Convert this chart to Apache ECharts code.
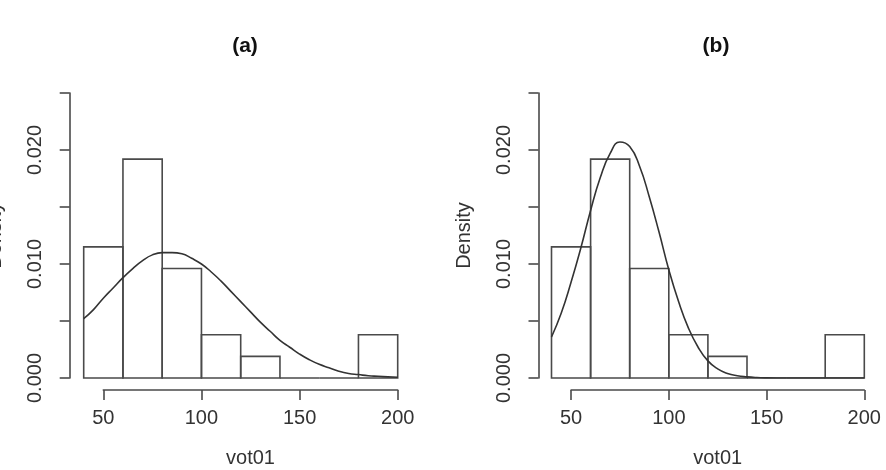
<!DOCTYPE html>
<html>
<head>
<meta charset="utf-8">
<title>vot01 density</title>
<script src="https://cdn.jsdelivr.net/npm/echarts@6/dist/echarts.min.js"></script>
<style>
  html, body { margin: 0; padding: 0; background: #fff; }
  #chart { width: 886px; height: 470px; }
</style>
</head>
<body>
<div id="chart"></div>
<script>
// histogram of vot01 (same bins in both panels)
var binEdges = [40, 60, 80, 100, 120, 140, 160, 180, 200];
var histDensity = [0.0115, 0.0192, 0.0096, 0.0038, 0.0019, 0, 0, 0.0038];

// fitted curves
var curveX = [40, 45, 50, 55, 60, 65, 70, 75, 80, 85, 90, 95, 100, 105, 110, 115, 120,
  125, 130, 135, 140, 145, 150, 155, 160, 165, 170, 175, 180, 185, 190, 195, 200];
var curveA = [0.0052, 0.0060, 0.0070, 0.0079, 0.0088, 0.0096, 0.0103, 0.0108, 0.0110, 0.0110,
  0.0109, 0.0105, 0.0100, 0.0093, 0.0085, 0.0076, 0.0067, 0.0058, 0.0049, 0.0041, 0.0033,
  0.0027, 0.0021, 0.0016, 0.0012, 0.0009, 0.0006, 0.0004, 0.0003, 0.0002, 0.00015, 0.0001, 0.00006];
var curveB = [0.0036, 0.0057, 0.0084, 0.0114, 0.0147, 0.0176, 0.0197, 0.0207, 0.0203, 0.0186,
  0.0159, 0.0128, 0.0095, 0.0067, 0.0044, 0.0027, 0.0015, 0.0008, 0.0004, 0.0002, 0.0001,
  0.00004, 0.00001, 0, 0, 0, 0, 0, 0, 0, 0, 0, 0];

var xTicks = [50, 100, 150, 200];
var yLabelled = [0, 0.01, 0.02];
var titles = ["(a)", "(b)"];
var xName = "vot01";
var yName = "Density";

var font = "Liberation Sans, Arial, sans-serif";
var lineCol = "#4a4a4a";
var textCol = "#333";

function histData() {
  return histDensity.map(function (d, i) {
    return [binEdges[i], binEdges[i + 1], d];
  });
}

function curveData(ys) {
  return curveX.map(function (x, i) { return [x, ys[i]]; });
}

function renderBin(params, api) {
  var p0 = api.coord([api.value(0), api.value(2)]);
  var p1 = api.coord([api.value(1), 0]);
  return {
    type: "rect",
    shape: { x: p0[0], y: p0[1], width: p1[0] - p0[0], height: p1[1] - p0[1] },
    style: { fill: "none", stroke: lineCol, lineWidth: 1.6 }
  };
}

// pixel layout of the two panels
var panels = [
  { left: 83.7, width: 314, axisLeft: 103.3, axisWidth: 294.4, yOffset: 14, title: 240 },
  { left: 551.5, width: 312.8, axisLeft: 571.1, axisWidth: 293.2, yOffset: 13, title: 711 }
];

var grid = [], xAxis = [], yAxis = [], series = [], title = [];
panels.forEach(function (p, k) {
  var g = grid.length;
  // data area
  grid.push({ left: p.left, width: p.width, top: 93, height: 285, outerBoundsMode: "none" });
  // x axis only spans 50..200
  grid.push({ left: p.axisLeft, width: p.axisWidth, top: 380, height: 10, outerBoundsMode: "none" });

  xAxis.push({ gridIndex: g, type: "value", min: 40, max: 200, show: false });
  yAxis.push({
    gridIndex: g, type: "value", min: 0, max: 0.025, interval: 0.005,
    offset: p.yOffset,
    name: yName, nameLocation: "middle", nameGap: 64,
    nameTextStyle: { fontFamily: font, fontSize: 20, color: textCol },
    axisLine: { show: true, lineStyle: { color: lineCol, width: 1.6 } },
    axisTick: { show: true, length: 10, lineStyle: { color: lineCol, width: 1.6 } },
    axisLabel: {
      rotate: 90, margin: 24, fontFamily: font, fontSize: 20, color: textCol,
      formatter: function (v) {
        var hit = yLabelled.some(function (t) { return Math.abs(t - v) < 1e-9; });
        return hit ? v.toFixed(3) : "";
      }
    },
    splitLine: { show: false }
  });

  xAxis.push({
    gridIndex: g + 1, type: "value", min: 50, max: 200, interval: 50,
    position: "bottom",
    name: xName, nameLocation: "middle", nameGap: 58,
    nameTextStyle: { fontFamily: font, fontSize: 20, color: textCol },
    axisLine: { show: true, lineStyle: { color: lineCol, width: 1.6 } },
    axisTick: { show: true, length: 10, lineStyle: { color: lineCol, width: 1.6 } },
    axisLabel: {
      margin: 18, fontFamily: font, fontSize: 20, color: textCol,
      showMinLabel: true, showMaxLabel: true
    },
    splitLine: { show: false }
  });
  yAxis.push({ gridIndex: g + 1, type: "value", min: 0, max: 1, show: false });

  series.push({
    type: "custom",
    xAxisIndex: g, yAxisIndex: g,
    renderItem: renderBin,
    encode: { x: [0, 1], y: 2 },
    data: histData(),
    silent: true,
    z: 2
  });
  series.push({
    type: "line",
    xAxisIndex: g, yAxisIndex: g,
    data: curveData(k === 0 ? curveA : curveB),
    smooth: true,
    showSymbol: false,
    lineStyle: { color: "#333", width: 1.6 },
    silent: true,
    z: 3
  });

  title.push({
    text: titles[k], left: p.title, top: 31, textAlign: "center",
    textStyle: { fontFamily: font, fontSize: 21, fontWeight: "bold", color: "#111" }
  });
});

var myChart = echarts.init(document.getElementById("chart"), null, { renderer: "canvas" });
myChart.setOption({
  animation: false,
  backgroundColor: "#fff",
  title: title,
  grid: grid,
  xAxis: xAxis,
  yAxis: yAxis,
  series: series
});
</script>
</body>
</html>
